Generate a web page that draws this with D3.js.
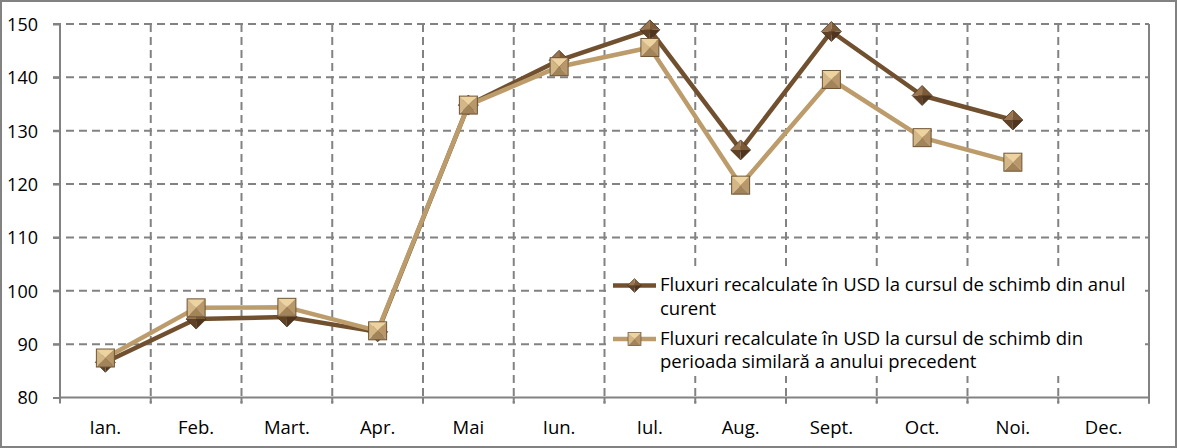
<!DOCTYPE html>
<html><head><meta charset="utf-8">
<script src="https://cdn.jsdelivr.net/npm/d3@7"></script>
<style>
html,body{margin:0;padding:0;background:#fff;}
svg{display:block;}
text{font-family:"Open Sans",sans-serif;fill:#000;}
</style></head>
<body>
<svg id="chart" width="1177" height="448"></svg>
<script>
const categories = ["Ian.","Feb.","Mart.","Apr.","Mai","Iun.","Iul.","Aug.","Sept.","Oct.","Noi.","Dec."];
const seriesCurrent = [86.6, 94.7, 95.1, 92.3, 134.8, 143.2, 148.9, 126.4, 148.6, 136.6, 132.0, null];
const seriesPrevious = [87.4, 96.8, 96.9, 92.5, 134.8, 142.0, 145.6, 119.8, 139.6, 128.7, 124.1, null];
const yTicks = [80, 90, 100, 110, 120, 130, 140, 150];
const legendLabels = [
  ["Fluxuri recalculate în USD la cursul de schimb din anul", "curent"],
  ["Fluxuri recalculate în USD la cursul de schimb din", "perioada similară a anului precedent"]
];

const W = 1177, H = 448;
const m = {left: 60, right: 28, top: 24, bottom: 50.5};
const svg = d3.select("#chart");
const gray = "#828282";
const FS = "18px", FSX = "18.5px", FSL = "18.5px";

svg.append("rect").attr("x",1).attr("y",1).attr("width",W-2).attr("height",H-2)
  .attr("fill","#fff").attr("stroke",gray).attr("stroke-width",2);

const x = d3.scaleBand().domain(categories).range([m.left, W - m.right]).padding(0);
const y = d3.scaleLinear().domain([80,150]).range([H - m.bottom, m.top]);

// horizontal gridlines
svg.append("g").selectAll("line").data(yTicks.filter(d=>d>80)).join("line")
  .attr("x1", m.left - 7).attr("x2", W - m.right)
  .attr("y1", d=>y(d)).attr("y2", d=>y(d))
  .attr("stroke", gray).attr("stroke-width",2).attr("stroke-dasharray","8,5");

// vertical gridlines at category boundaries
const bounds = categories.slice(1).map(c => x(c));
svg.append("g").selectAll("line").data(bounds).join("line")
  .attr("x1", d=>d).attr("x2", d=>d)
  .attr("y1", y(150)).attr("y2", y(80) + 6)
  .attr("stroke", gray).attr("stroke-width",2).attr("stroke-dasharray","8,5");

// right border
svg.append("line").attr("x1", W-m.right).attr("x2", W-m.right)
  .attr("y1", y(150)).attr("y2", y(80)+6).attr("stroke", gray).attr("stroke-width",2);

// y axis
const yAxis = d3.axisLeft(y).tickValues(yTicks).tickSize(7).tickPadding(15);
const gy = svg.append("g").attr("transform",`translate(${m.left},0)`).call(yAxis);
gy.select(".domain").attr("stroke",gray).attr("stroke-width",2).attr("d",`M-7,${y(150)}H0V${y(80)}`);
gy.selectAll(".tick line").attr("stroke",gray).attr("stroke-width",2);
gy.selectAll(".tick text").style("font-size",FS).style("font-family","Open Sans").attr("fill","#000").attr("dy","0.36em");

// x axis
const xAxis = d3.axisBottom(x).tickSize(0).tickPadding(23);
const gx = svg.append("g").attr("transform",`translate(0,${y(80)})`).call(xAxis);
gx.select(".domain").attr("stroke",gray).attr("stroke-width",2).attr("d",`M${m.left},0H${W-m.right}`);
gx.selectAll(".tick text").style("font-size",FSX).style("font-family","Open Sans").attr("fill","#000");
// x boundary ticks
svg.append("g").selectAll("line").data([m.left, ...bounds, W-m.right]).join("line")
  .attr("x1",d=>d).attr("x2",d=>d).attr("y1",y(80)).attr("y2",y(80)+6)
  .attr("stroke",gray).attr("stroke-width",2);

const colCur = "#70502f", colPrev = "#bd9c6c";

function drawLine(data, color){
  const line = d3.line().defined(d=>d!=null)
    .x((d,i)=>x(categories[i]) + x.bandwidth()/2).y(d=>y(d));
  svg.append("path").datum(data).attr("d", line).attr("fill","none")
    .attr("stroke", color).attr("stroke-width",4.5).attr("stroke-linejoin","round");
}

function diamond(g, cx, cy){
  const r = 10;
  const pts = {t:[cx,cy-r], r:[cx+r,cy], b:[cx,cy+r], l:[cx-r,cy]}, c=[cx,cy];
  const tri = (a,b,f)=>g.append("path").attr("d",`M${a}L${b}L${c}Z`).attr("fill",f);
  tri(pts.l, pts.t, "#9a7650");
  tri(pts.t, pts.r, "#7c5a37");
  tri(pts.r, pts.b, "#4f3520");
  tri(pts.b, pts.l, "#5e4126");
  g.append("path").attr("d",`M${pts.t}L${pts.r}L${pts.b}L${pts.l}Z`).attr("fill","none")
    .attr("stroke","#4a321c").attr("stroke-width",0.8);
}
function square(g, cx, cy){
  const r = 9;
  const tl=[cx-r,cy-r], tr=[cx+r,cy-r], br=[cx+r,cy+r], bl=[cx-r,cy+r], c=[cx,cy];
  const tri = (a,b,f)=>g.append("path").attr("d",`M${a}L${b}L${c}Z`).attr("fill",f);
  tri(tl, tr, "#ecd3a0");
  tri(tr, br, "#b8986a");
  tri(br, bl, "#a2845a");
  tri(bl, tl, "#d3b786");
  g.append("rect").attr("x",cx-r).attr("y",cy-r).attr("width",2*r).attr("height",2*r)
    .attr("fill","none").attr("stroke","#6e5536").attr("stroke-width",1);
}

drawLine(seriesCurrent, colCur);
drawLine(seriesPrevious, colPrev);

const gm1 = svg.append("g");
seriesCurrent.forEach((d,i)=>{ if(d!=null) diamond(gm1, x(categories[i])+x.bandwidth()/2, y(d)); });
const gm2 = svg.append("g");
seriesPrevious.forEach((d,i)=>{ if(d!=null) square(gm2, x(categories[i])+x.bandwidth()/2, y(d)); });

// legend
const lg = svg.append("g");
lg.append("rect").attr("x",606).attr("y",271).attr("width",536).attr("height",105).attr("fill","#fff");
const legendY = [285.5, 339];
const legendCols = [colCur, colPrev];
legendLabels.forEach((lines, k)=>{
  const ly = legendY[k];
  lg.append("line").attr("x1",613).attr("x2",656).attr("y1",ly).attr("y2",ly)
    .attr("stroke",legendCols[k]).attr("stroke-width",4.5);
  const mg = lg.append("g");
  if(k===0){ diamond(mg, 634.5, ly); mg.attr("transform",`translate(${634.5},${ly}) scale(0.7) translate(${-634.5},${-ly})`);} 
  else { square(mg, 634.5, ly); mg.attr("transform",`translate(${634.5},${ly}) scale(0.72) translate(${-634.5},${-ly})`);} 
  const t = lg.append("text").attr("x",660).attr("y",ly+5.5).style("font-size",FSL);
  lines.forEach((s,j)=>t.append("tspan").attr("x",660).attr("dy", j===0?0:23.5).text(s));
});
</script>
</body></html>
